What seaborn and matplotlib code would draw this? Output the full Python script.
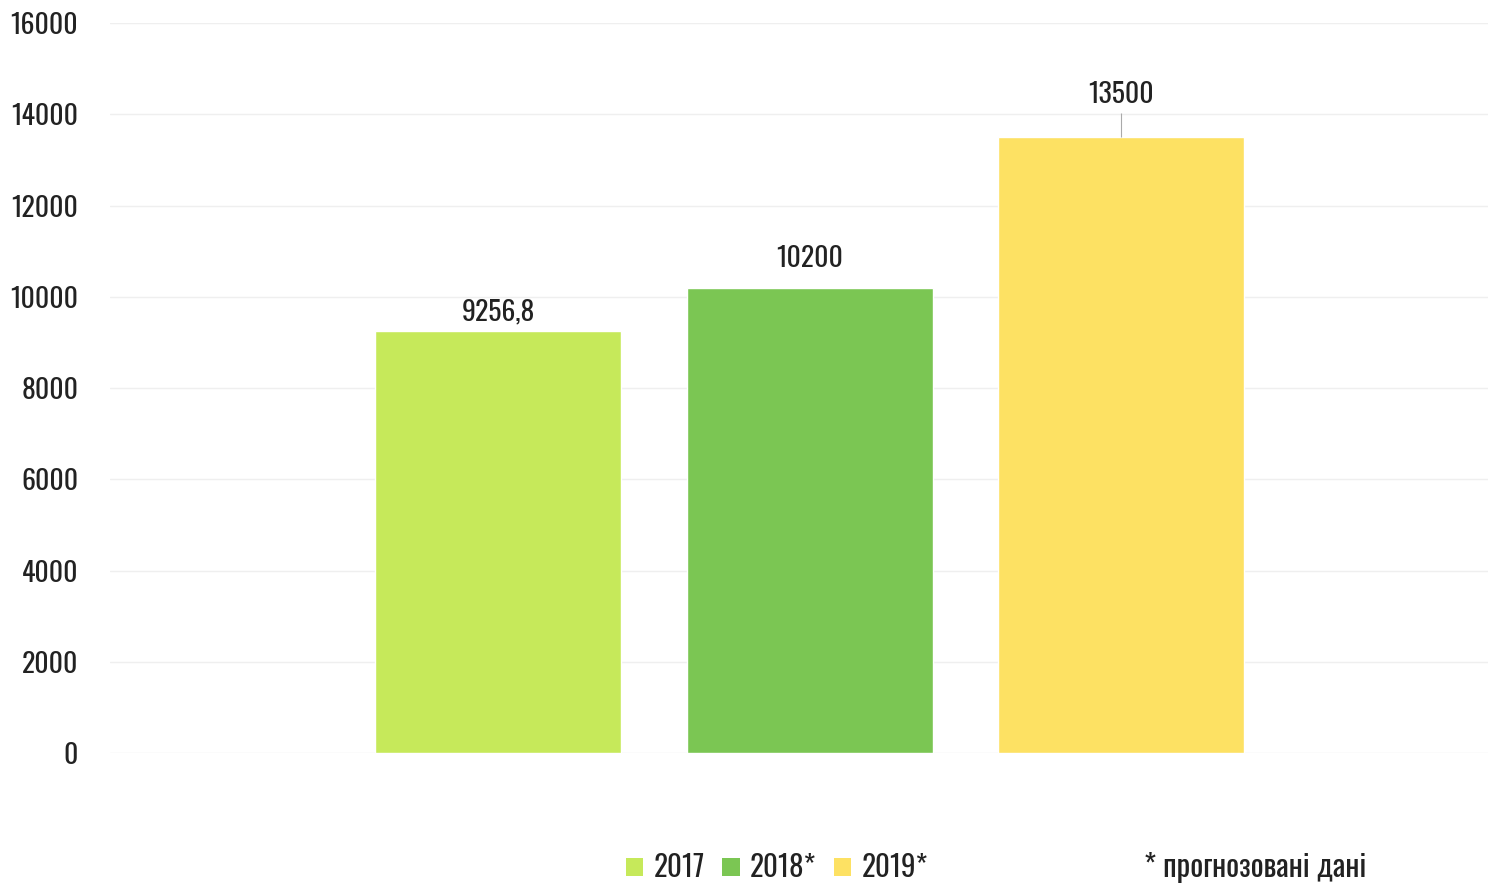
import matplotlib
matplotlib.use("Agg")
import pandas as pd
import seaborn as sns
import matplotlib.pyplot as plt
from matplotlib.patches import Patch

years = ["2017", "2018*", "2019*"]
values = [9256.8, 10200, 13500]
labels = ["9256,8", "10200", "13500"]
colors = ["#c6e95a", "#7bc653", "#fde163"]
yticks = [0, 2000, 4000, 6000, 8000, 10000, 12000, 14000, 16000]
footnote = "* прогнозовані дані"

sns.set_style("white")
plt.rcParams["font.family"] = ["Oswald", "Roboto Condensed", "PT Sans Narrow", "DejaVu Sans"]

df = pd.DataFrame({"year": years, "value": values})

fig = plt.figure(figsize=(14.88, 8.89), dpi=100)
ax = fig.add_axes([0.074, 0.153, 0.926, 0.821])

sns.barplot(data=df, x="year", y="value", hue="year", palette=colors,
            width=0.79, legend=False, ax=ax, saturation=1)

ax.set_ylim(0, 16000)
ax.set_xlim(-1.246, 3.178)
ax.set_yticks(yticks)
ax.set_yticklabels([str(t) for t in yticks], fontsize=20, color="#222222")
ax.set_xticks([])
ax.set_xlabel("")
ax.set_ylabel("")
ax.yaxis.grid(True, color="#efefef", linewidth=1)
ax.set_axisbelow(True)
ax.tick_params(axis="y", length=0, pad=23)
for s in ax.spines.values():
    s.set_visible(False)

offsets = [4, 11, 21]
for i, (v, lab) in enumerate(zip(values, labels)):
    ax.annotate(lab, (i, v), xytext=(0, offsets[i]), textcoords="offset points",
                ha="center", va="bottom", fontsize=20, color="#222222")
# leader line above the tallest bar
ax.vlines(2, values[2], values[2] + 520, color="#aaaaaa", linewidth=0.8)

handles = [Patch(facecolor=c, edgecolor="none") for c in colors]
fig.legend(handles, years, loc="center", bbox_to_anchor=(0.522, 0.024),
           ncol=3, frameon=False, fontsize=21, handlelength=0.6,
           handleheight=0.6, handletextpad=0.35, columnspacing=0.6,
           labelcolor="#222222")
fig.text(0.769, 0.024, footnote, ha="left", va="center", fontsize=22,
         color="#222222")

fig.savefig("out.png", dpi=100)
